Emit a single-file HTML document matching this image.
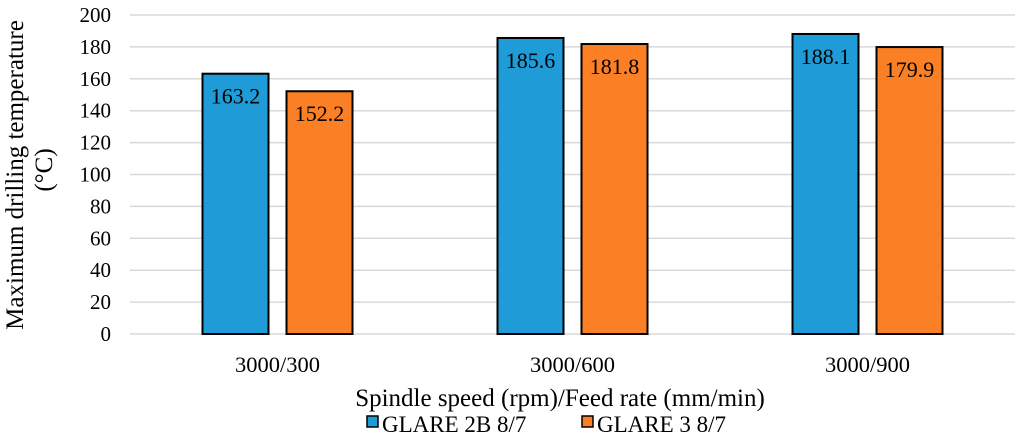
<!DOCTYPE html>
<html><head><meta charset="utf-8"><style>
body{margin:0;background:#fff;}
svg{display:block;font-family:"Liberation Serif",serif;}
</style></head><body>
<svg id="chart" width="1024" height="441"></svg>
<script>
const categories=["3000/300","3000/600","3000/900"];
const series1=[163.2,185.6,188.1];
const series2=[152.2,181.8,179.9];
const seriesNames=["GLARE 2B 8/7","GLARE 3 8/7"];
const yTicks=[0,20,40,60,80,100,120,140,160,180,200];
const svg=document.getElementById('chart');
const NS='http://www.w3.org/2000/svg';
const x0=130,x1=1015,yTop=15,yBot=334,yMax=200;
const y=v=>yBot-(v/yMax)*(yBot-yTop);
const band=(x1-x0)/categories.length;
const cx=i=>x0+band*(i+0.5);
function mk(t,a,txt){const e=document.createElementNS(NS,t);for(const k in a)e.setAttribute(k,a[k]);if(txt!==undefined)e.textContent=txt;svg.appendChild(e);return e;}
yTicks.forEach(v=>{
 const g=mk('line',{x1:x0,x2:x1,y1:y(v),y2:y(v),stroke:'#d9d9d9','stroke-width':1.5});
 
 
 const t=mk('text',{x:111,y:y(v)+7,'text-anchor':'end','font-size':21,fill:'#000'},v);
 
 
});
const bw=66,gap=18;
const colors=['#1f9bd7','#fb7f24'];
categories.forEach((c,i)=>{
 [series1,series2].forEach((s,j)=>{
  const bx=cx(i)-gap/2-bw+j*(bw+gap);
  const r=mk('rect',{x:bx,y:y(s[i]),width:bw,height:yBot-y(s[i]),fill:colors[j],stroke:'#000','stroke-width':2});
  
  
  const l=mk('text',{x:bx+bw/2,y:y(s[i])+30,'text-anchor':'middle','font-size':22,fill:'#000'},s[i].toFixed(1));
  
  
 });
 const t=mk('text',{x:cx(i),y:372,'text-anchor':'middle','font-size':22.5,fill:'#000'},c);
 
 
});
const xt=mk('text',{x:560,y:406,'text-anchor':'middle','font-size':25,fill:'#000'},'Spindle speed (rpm)/Feed rate (mm/min)');


const yt=mk('text',{transform:'translate(23,175) rotate(-90)','text-anchor':'middle','font-size':25,fill:'#000'},'Maximum drilling temperature');


const yt2=mk('text',{transform:'translate(52,170) rotate(-90)','text-anchor':'middle','font-size':25,fill:'#000'},'(°C)');


const lx=[367,582];
seriesNames.forEach((n,j)=>{
 const r=mk('rect',{x:lx[j],y:416,width:11,height:11,fill:colors[j],stroke:'#000','stroke-width':1.5});
 
 
 const t=mk('text',{x:lx[j]+15,y:432,'font-size':23,fill:'#000'},n);
 
 
});
</script>
</body></html>
